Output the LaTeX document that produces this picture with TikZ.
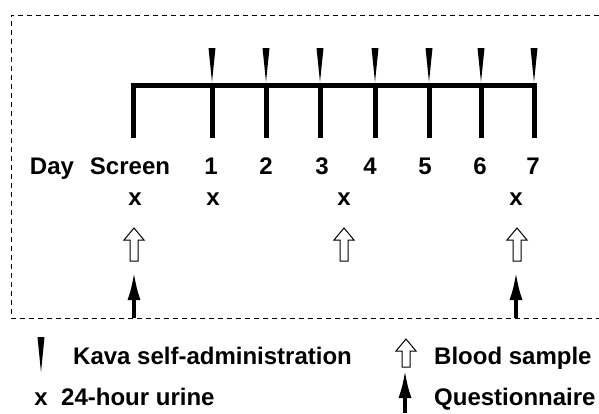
\documentclass[tikz,border=0pt]{standalone}
\usepackage{fontspec}
\setmainfont{Liberation Sans}
\usetikzlibrary{arrows.meta}

\tikzset{
  pics/kava/.style={code={\fill (-3.5,0) -- (3.5,0) -- (0,#1) -- cycle;}},
  pics/blood/.style={code={\draw[line width=1pt,fill=white] (0,0) -- (10,12) -- (4,12) -- (4,#1)
      -- (-4,#1) -- (-4,12) -- (-10,12) -- cycle;}}
}

\begin{document}
\begin{tikzpicture}[x=1pt,y=-1pt,
  txt/.style={font=\fontsize{24}{28}\selectfont\bfseries,inner sep=0pt,anchor=base},
  legtxt/.style={txt,anchor=base west},
  dayline/.style={line width=5pt},
  quest/.style={line width=3.5pt,-{Latex[length=28pt,width=13pt]}},
  frame/.style={line width=1pt,dash pattern=on 5pt off 4pt}]
\useasboundingbox (0,0) rectangle (599,413);

% dashed frame (open to the right)
\coordinate (f1) at (599,15);
\coordinate (f2) at (11,15);
\coordinate (f3) at (11,318);
\coordinate (f4) at (599,318);
\draw[frame] (f1) -- (f2) -- (f3) -- (f4);

% time line
\coordinate (t0) at (133,138);
\coordinate (b0) at (133,85);
\coordinate (b7) at (534,85);
\coordinate (t7) at (534,138);
\draw[dayline] (t0) -- (b0) -- (b7) -- (t7);
\foreach \i/\x in {1/212,2/266,3/320,4/375,5/429,6/481}{
  \coordinate (b\i) at (\x,85);
  \coordinate (t\i) at (\x,138);
  \draw[dayline] (b\i) -- (t\i);
}
\foreach \x in {212,266,320,375,429,481,534}
  \pic at (\x,48) {kava=34};

% day labels
\node[txt] (day) at (52,174) {Day};
\node[txt] (scr) at (130,174) {Screen};
\foreach \i/\x in {1/211,2/266,3/322,4/370,5/425,6/480,7/533}
  \node[txt] (d\i) at (\x,174) {\i};

% urine
\foreach \n/\x in {u1/135,u2/213,u3/344,u4/516}
  \node[txt] (\n) at (\x,205) {x};

% blood samples
\foreach \x in {134,344,517}
  \pic at (\x,228) {blood=33};

% questionnaires
\coordinate (q1) at (134,318);
\coordinate (qt1) at (134,272);
\coordinate (q2) at (516,318);
\coordinate (qt2) at (516,272);
\draw[quest] (q1) -- (qt1);
\draw[quest] (q2) -- (qt2);

% legend
\pic at (41,337) {kava=35};
\node[legtxt] (lkava) at (73,364) {Kava self-administration};
\node[txt] (lx) at (41,405) {x};
\node[legtxt] (lurine) at (61,405) {24-hour urine};
\pic at (406,339) {blood=28};
\node[legtxt] (lblood) at (434,364) {Blood sample};
\coordinate (lq) at (405,413);
\coordinate (lqt) at (405,370);
\draw[quest] (lq) -- (lqt);
\node[legtxt] (lquest) at (434,405) {Questionnaire};
\end{tikzpicture}
\end{document}
